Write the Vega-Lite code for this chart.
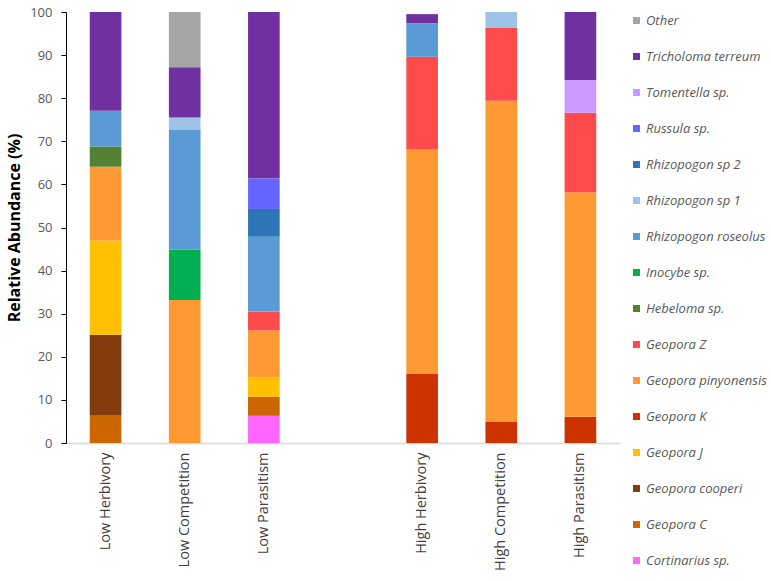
{
  "$schema": "https://vega.github.io/schema/vega-lite/v6.json",
  "autosize": "none",
  "width": 554,
  "height": 431,
  "padding": {"left": 66, "top": 12, "right": 151, "bottom": 138},
  "background": "white",
  "config": {"view": {"stroke": null}, "font": "Open Sans"},
  "datasets": {
    "speciesOrder": [
      {"species": "Cortinarius sp.", "rank": 1},
      {"species": "Geopora C", "rank": 2},
      {"species": "Geopora cooperi", "rank": 3},
      {"species": "Geopora J", "rank": 4},
      {"species": "Geopora K", "rank": 5},
      {"species": "Geopora pinyonensis", "rank": 6},
      {"species": "Geopora Z", "rank": 7},
      {"species": "Hebeloma sp.", "rank": 8},
      {"species": "Inocybe sp.", "rank": 9},
      {"species": "Rhizopogon roseolus", "rank": 10},
      {"species": "Rhizopogon sp 1", "rank": 11},
      {"species": "Rhizopogon sp 2", "rank": 12},
      {"species": "Russula sp.", "rank": 13},
      {"species": "Tomentella sp.", "rank": 14},
      {"species": "Tricholoma terreum", "rank": 15},
      {"species": "Other", "rank": 16}
    ],
    "abundance": [
      {"treatment": "Low Herbivory", "species": "Geopora C", "abundance": 6.5},
      {"treatment": "Low Herbivory", "species": "Geopora cooperi", "abundance": 18.6},
      {"treatment": "Low Herbivory", "species": "Geopora J", "abundance": 21.9},
      {"treatment": "Low Herbivory", "species": "Geopora pinyonensis", "abundance": 17.1},
      {"treatment": "Low Herbivory", "species": "Hebeloma sp.", "abundance": 4.7},
      {"treatment": "Low Herbivory", "species": "Rhizopogon roseolus", "abundance": 8.3},
      {"treatment": "Low Herbivory", "species": "Tricholoma terreum", "abundance": 22.9},
      {"treatment": "Low Competition", "species": "Geopora pinyonensis", "abundance": 33.2},
      {"treatment": "Low Competition", "species": "Inocybe sp.", "abundance": 11.7},
      {"treatment": "Low Competition", "species": "Rhizopogon roseolus", "abundance": 27.7},
      {"treatment": "Low Competition", "species": "Rhizopogon sp 1", "abundance": 2.9},
      {"treatment": "Low Competition", "species": "Tricholoma terreum", "abundance": 11.7},
      {"treatment": "Low Competition", "species": "Other", "abundance": 12.8},
      {"treatment": "Low Parasitism", "species": "Cortinarius sp.", "abundance": 6.3},
      {"treatment": "Low Parasitism", "species": "Geopora C", "abundance": 4.4},
      {"treatment": "Low Parasitism", "species": "Geopora J", "abundance": 4.5},
      {"treatment": "Low Parasitism", "species": "Geopora pinyonensis", "abundance": 10.9},
      {"treatment": "Low Parasitism", "species": "Geopora Z", "abundance": 4.4},
      {"treatment": "Low Parasitism", "species": "Rhizopogon roseolus", "abundance": 17.5},
      {"treatment": "Low Parasitism", "species": "Rhizopogon sp 2", "abundance": 6.3},
      {"treatment": "Low Parasitism", "species": "Russula sp.", "abundance": 7.1},
      {"treatment": "Low Parasitism", "species": "Tricholoma terreum", "abundance": 38.6},
      {"treatment": "High Herbivory", "species": "Geopora K", "abundance": 16.0},
      {"treatment": "High Herbivory", "species": "Geopora pinyonensis", "abundance": 52.2},
      {"treatment": "High Herbivory", "species": "Geopora Z", "abundance": 21.4},
      {"treatment": "High Herbivory", "species": "Rhizopogon roseolus", "abundance": 7.8},
      {"treatment": "High Herbivory", "species": "Tricholoma terreum", "abundance": 2.1},
      {"treatment": "High Competition", "species": "Geopora K", "abundance": 4.9},
      {"treatment": "High Competition", "species": "Geopora pinyonensis", "abundance": 74.5},
      {"treatment": "High Competition", "species": "Geopora Z", "abundance": 16.9},
      {"treatment": "High Competition", "species": "Rhizopogon sp 1", "abundance": 3.7},
      {"treatment": "High Parasitism", "species": "Geopora K", "abundance": 6.1},
      {"treatment": "High Parasitism", "species": "Geopora pinyonensis", "abundance": 52.1},
      {"treatment": "High Parasitism", "species": "Geopora Z", "abundance": 18.4},
      {"treatment": "High Parasitism", "species": "Tomentella sp.", "abundance": 7.6},
      {"treatment": "High Parasitism", "species": "Tricholoma terreum", "abundance": 15.8}
    ]
  },
  "data": {"name": "abundance"},
  "transform": [
    {"lookup": "species", "from": {"data": {"name": "speciesOrder"}, "key": "species", "fields": ["rank"]}}
  ],
  "mark": {"type": "bar"},
  "encoding": {
    "x": {
      "field": "treatment", "type": "nominal",
      "scale": {
        "domain": ["Low Herbivory", "Low Competition", "Low Parasitism", " ", "High Herbivory", "High Competition", "High Parasitism"],
        "paddingInner": 0.6, "paddingOuter": 0.3
      },
      "axis": {
        "title": null, "labelAngle": -90, "ticks": false, "domainColor": "#D9D9D9", "domainWidth": 1.5,
        "labelFontSize": 14.5, "labelColor": "#404040", "labelPadding": 9
      }
    },
    "y": {
      "field": "abundance", "type": "quantitative", "stack": "zero",
      "scale": {"domain": [0, 100], "nice": false},
      "axis": {
        "title": "Relative Abundance (%)", "values": [0,10,20,30,40,50,60,70,80,90,100],
        "grid": false, "domainColor": "#000000", "tickColor": "#000000", "tickSize": 5,
        "labelFontSize": 13, "labelColor": "#595959", "labelPadding": 9,
        "titleFontSize": 16, "titleFontWeight": "bold", "titleColor": "#000000", "titlePadding": 7
      }
    },
    "order": {"field": "rank", "type": "quantitative", "sort": "ascending"},
    "color": {
      "field": "species", "type": "nominal",
      "scale": {
        "domain": ["Other", "Tricholoma terreum", "Tomentella sp.", "Russula sp.", "Rhizopogon sp 2", "Rhizopogon sp 1", "Rhizopogon roseolus", "Inocybe sp.", "Hebeloma sp.", "Geopora Z", "Geopora pinyonensis", "Geopora K", "Geopora J", "Geopora cooperi", "Geopora C", "Cortinarius sp."],
        "range": ["#A5A5A5", "#7030A0", "#CC99FF", "#6666FF", "#2E75B6", "#9DC3E6", "#5B9BD5", "#00B050", "#548235", "#FF4B4B", "#FF9933", "#CC3300", "#FFC000", "#843C0C", "#CC6600", "#FF66FF"]
      },
      "legend": {
        "title": null, "orient": "none", "legendX": 564, "legendY": 2,
        "symbolType": "square", "symbolSize": 49, "symbolStrokeWidth": 0,
        "labelFontSize": 13, "labelFontStyle": "italic", "labelColor": "#595959",
        "rowPadding": 22, "labelOffset": 3
      }
    }
  }
}
